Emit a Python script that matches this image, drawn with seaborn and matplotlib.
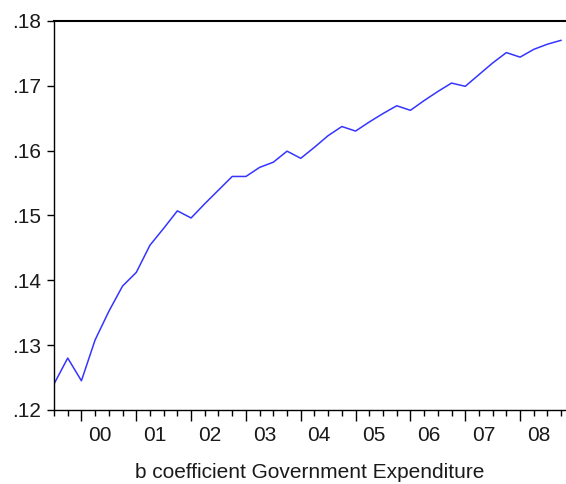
import numpy as np
import pandas as pd
import matplotlib
matplotlib.use('Agg')
import matplotlib.pyplot as plt
import matplotlib.transforms as mtransforms
import seaborn as sns

# quarterly b coefficient, 1999Q3 - 2008Q4
b_coef = [0.1240, 0.1280, 0.1245, 0.1308, 0.1352, 0.1391, 0.1412, 0.1454,
          0.1480, 0.1507, 0.1496, 0.1518, 0.1539, 0.1560, 0.1560, 0.1574,
          0.1582, 0.1599, 0.1588, 0.1605, 0.1623, 0.1637, 0.1630, 0.1644,
          0.1657, 0.1669, 0.1662, 0.1677, 0.1691, 0.1704, 0.1699, 0.1717,
          0.1735, 0.1751, 0.1744, 0.1756, 0.1764, 0.1770]
year_labels = ['00', '01', '02', '03', '04', '05', '06', '07', '08']
ytick_vals = [0.12, 0.13, 0.14, 0.15, 0.16, 0.17, 0.18]
ytick_labels = ['.12', '.13', '.14', '.15', '.16', '.17', '.18']

df = pd.DataFrame({'obs': np.arange(len(b_coef)), 'b': b_coef})

sns.set_style('white')
plt.rcParams['font.family'] = ['Liberation Sans', 'DejaVu Sans']

fig = plt.figure(figsize=(5.66, 4.84), dpi=100)
ax = fig.add_axes([0.0954, 0.153, 0.9046, 0.804])

sns.lineplot(data=df, x='obs', y='b', color='#3535ff', linewidth=1.1, ax=ax)

ax.set_xlim(0, len(b_coef) - 1 + 0.35)
ax.set_ylim(0.12, 0.18)

# year starts (Q1) get long ticks, every quarter a short one
year_starts = [2 + 4 * k for k in range(len(year_labels))]
ax.set_xticks(year_starts)
ax.set_xticklabels([])
ax.set_xticks(np.arange(len(b_coef)), minor=True)
ax.tick_params(axis='x', which='major', direction='out', length=8, width=1, color='black', bottom=True)
ax.tick_params(axis='x', which='minor', direction='out', length=4, width=1, color='black', bottom=True)

trans = mtransforms.blended_transform_factory(ax.transData, ax.transAxes)
for pos, lab in zip(year_starts, year_labels):
    ax.text(pos + 1.35, -0.042, lab, transform=trans, ha='center', va='top',
            fontsize=15, color='#1a1a1a')

ax.set_yticks(ytick_vals)
ax.set_yticklabels(ytick_labels, fontsize=15, color='#1a1a1a')
ax.tick_params(axis='y', direction='out', length=5, width=1, color='black', left=True, pad=4)

for side in ['left', 'bottom', 'top']:
    ax.spines[side].set_visible(True)
    ax.spines[side].set_color('black')
    ax.spines[side].set_linewidth(1.0)
ax.spines['top'].set_linewidth(1.5)
ax.spines['right'].set_visible(False)

ax.set_xlabel('b coefficient Government Expenditure', fontsize=15, color='#1a1a1a', labelpad=27)
ax.set_ylabel('')

fig.savefig('out.png', dpi=100)
plt.close(fig)
